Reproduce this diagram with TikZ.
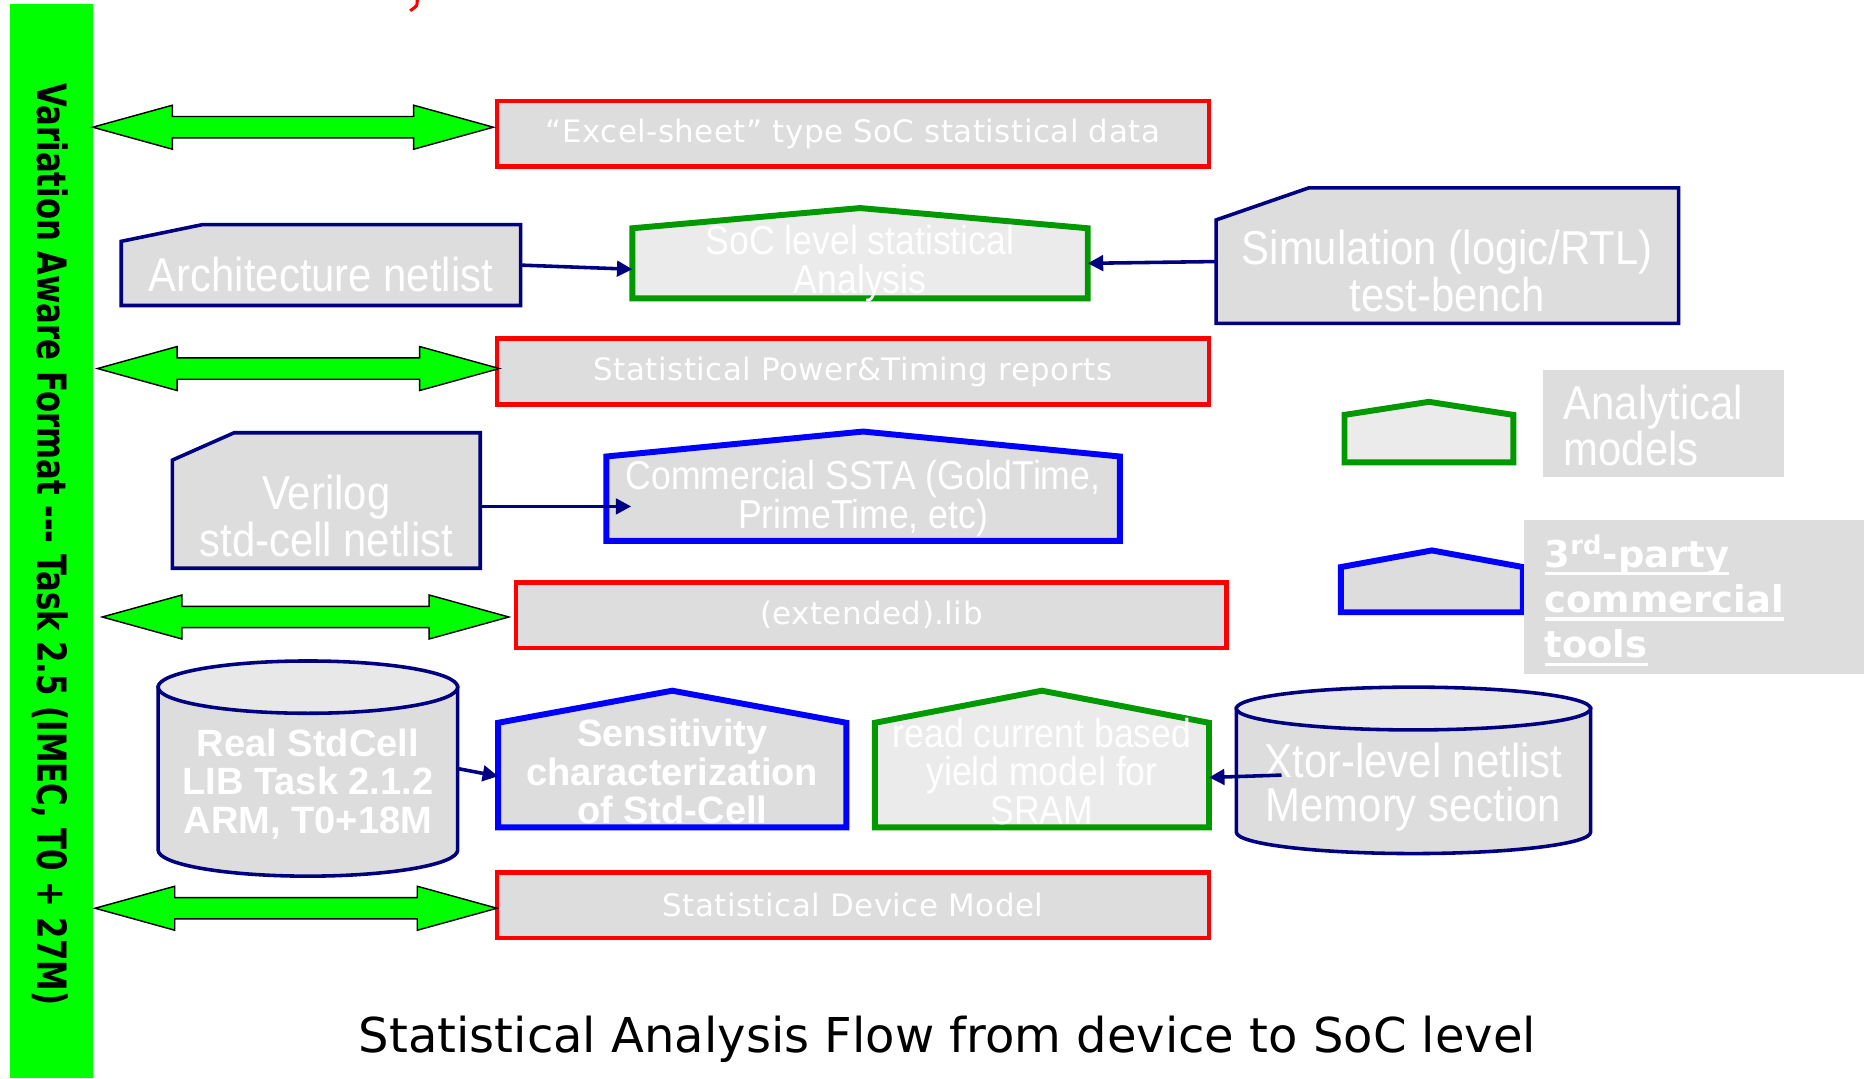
\documentclass[tikz,border=0pt]{standalone}
\usepackage{fontspec}
\usetikzlibrary{backgrounds,calc,arrows.meta}

\newfontfamily\boxfont[FakeStretch=0.88]{Liberation Sans}
\newfontfamily\boldfont{Liberation Sans}
\newfontfamily\filefont[LetterSpace=1.5]{DejaVu Sans}
\newfontfamily\titlefont{DejaVu Sans}
\newfontfamily\barfont[FakeStretch=0.76]{DejaVu Sans}
\newfontfamily\legendfont{DejaVu Sans}

\definecolor{boxgray}{HTML}{DDDDDD}
\definecolor{paler}{HTML}{EBEBEB}
\definecolor{toplight}{HTML}{E8E8E8}
\definecolor{navyline}{HTML}{000080}
\definecolor{redline}{HTML}{FF0000}
\definecolor{greenline}{HTML}{009900}
\definecolor{blueline}{HTML}{0000FF}
\definecolor{barfill}{HTML}{00FF00}

% thick underline for the legend text
\newcommand\thickul[1]{\leavevmode\setbox0\hbox{#1}\rlap{\rule[-3.5pt]{\wd0}{1.3pt}}\box0}

% wide two-headed block arrow between two points
\newcommand\bigdarrow[2]{%
  \draw[bigarrow] let \p1=#1, \p2=#2 in
    (\x1,\y1) -- (\x1+33.5pt,\y1+9.25pt) -- (\x1+33.5pt,\y1+4.5pt)
    -- (\x2-33.5pt,\y1+4.5pt) -- (\x2-33.5pt,\y1+9.25pt) -- (\x2,\y1)
    -- (\x2-33.5pt,\y1-9.25pt) -- (\x2-33.5pt,\y1-4.5pt)
    -- (\x1+33.5pt,\y1-4.5pt) -- (\x1+33.5pt,\y1-9.25pt) -- cycle;}

% pentagon outline around a body node (#3 = roof height)
\newcommand\roof[3]{%
  \draw[#1] (#2.south west) -- (#2.north west) -- ($(#2.north)+(0,-#3)$)
    -- (#2.north east) -- (#2.south east) -- cycle;}

% rectangle with its top-left corner cut off (#2 along top, #3 down the side)
\newcommand\cutbox[3]{%
  \draw[navyshape] ($(#1.north west)+(0,#3)$) -- ($(#1.north west)+(#2,0)$)
    -- (#1.north east) -- (#1.south east) -- (#1.south west) -- cycle;}

% cylinder around a body node (#2 = half width, #3 = half height of the ends)
\newcommand\drum[3]{%
  \draw[navyshape] ($(#1.north west)+(0,#3)$) -- ($(#1.south west)+(0,-#3)$)
    arc[start angle=180, end angle=0, x radius=#2, y radius=#3]
    -- ($(#1.north east)+(0,#3)$) -- cycle;
  \draw[navyshape, fill=toplight] ($(#1.north)+(0,#3)$) ellipse[x radius=#2, y radius=#3];}

\begin{document}
\begin{tikzpicture}[x=0.5pt,y=-0.5pt,
  lbl/.style={text=white, align=center, inner sep=0pt, outer sep=0pt},
  big/.style={font=\boxfont\fontsize{20}{18.5}\selectfont},
  small/.style={font=\boxfont\fontsize{17}{16.25}\selectfont},
  boldlbl/.style={font=\boldfont\bfseries\fontsize{16}{16.25}\selectfont},
  redbox/.style={lbl, font=\filefont\fontsize{13}{15}\selectfont, draw=redline, line width=2pt, fill=boxgray},
  body/.style 2 args={lbl, minimum width=#1*0.5pt, minimum height=#2*0.5pt},
  navyshape/.style={draw=navyline, line width=1.5pt, fill=boxgray},
  greenshape/.style={draw=greenline, line width=2.5pt, fill=paler},
  blueshape/.style={draw=blueline, line width=2.5pt, fill=boxgray},
  conn/.style={draw=navyline, line width=1.5pt, -{Triangle[length=6.5pt,width=6.5pt]}},
  bigarrow/.style={fill=barfill, draw=black, line width=0.6pt, line join=miter},
  greybox/.style={fill=boxgray, inner sep=0pt, outer sep=0pt},
  legtext/.style={text=white, align=left, inner sep=0pt, anchor=west, xshift=8.5pt},
]
\path[use as bounding box] (0,0) rectangle (1568,907);

% vertical format bar
\node[fill=barfill, minimum width=35pt, minimum height=452pt, inner sep=0pt, outer sep=0pt] (bar) at (43,455) {};
\node[rotate=-90, font=\barfont\bfseries\fontsize{17}{20}\selectfont] (bartext) at (42,458)
  {Variation Aware Format --- Task 2.5 (IMEC, T0 + 27M)};

% stray red stroke at the top edge
\draw[redline, line width=1.3pt] (351,0) .. controls (351,5) .. (345,9);

% format files
\node[redbox, minimum width=299.5pt, minimum height=27.5pt] (excel) at (717.5,112.5) {“Excel-sheet” type SoC statistical data};
\node[redbox, minimum width=299.5pt, minimum height=27.5pt] (power) at (717.5,312.5) {Statistical Power\&Timing reports};
\node[redbox, minimum width=299pt, minimum height=27.5pt] (lib) at (733,517.5) {(extended).lib};
\node[redbox, minimum width=299.5pt, minimum height=27.5pt] (devmodel) at (717.5,761.5) {Statistical Device Model};

% inputs, tools and models
\node[body={336}{68}, label={[lbl, big, yshift=-4pt]center:Architecture netlist}] (arch) at (270,223) {};
\node[body={383}{59}, label={[lbl, small]center:{SoC level statistical\\Analysis}}] (soc) at (723.5,221.5) {};
\node[body={389}{114}, label={[lbl, big, yshift=-6.5pt]center:{Simulation (logic/RTL)\\test-bench}}] (sim) at (1217.5,215) {};
\node[body={259}{114}, label={[lbl, big, yshift=-6.5pt]center:{Verilog\\std-cell netlist}}] (veri) at (274.5,421) {};
\node[body={432}{71}, label={[lbl, small]center:{Commercial SSTA (GoldTime,\\PrimeTime, etc)}}] (ssta) at (726,419.5) {};
\node[body={252}{181}, label={[lbl, boldlbl, yshift=-6.5pt]center:{Real StdCell\\LIB Task 2.1.2\\ARM, T0+18M}}] (real) at (259,646.5) {};
\node[body={293}{88}, label={[lbl, boldlbl, yshift=1.5pt]center:{Sensitivity\\characterization\\of Std-Cell}}] (sens) at (565.5,652) {};
\node[body={281}{88}, label={[lbl, small, yshift=1.5pt]center:{read current based\\yield model for\\SRAM}}] (readc) at (876.5,652) {};
\node[body={298}{140}, label={[lbl, big, yshift=-7pt]center:{Xtor-level netlist\\Memory section}}] (xtor) at (1189,648) {};

% legend
\node[body={142}{40}] (leggreen) at (1202,369) {};
\node[body={153}{38}] (legblue) at (1204.5,496) {};
\node[greybox, minimum width=101.5pt, minimum height=45pt,
  label={[legtext, big, yshift=-1pt]west:{Analytical\\models}}] (analyt) at (1399.5,356) {};
\node[greybox, minimum width=143pt, minimum height=65pt,
  label={[legtext, font=\legendfont\bfseries\fontsize{15.5}{19}\selectfont, yshift=-1.5pt]west:{\thickul{3\textsuperscript{rd}-party}\\\thickul{commercial}\\\thickul{tools}}}] (tools) at (1425,502) {};

\begin{scope}[on background layer]
  \cutbox{arch}{68}{14}
  \cutbox{sim}{78}{27}
  \cutbox{veri}{52}{23}
  \roof{greenshape}{soc}{17}
  \roof{blueshape}{ssta}{21}
  \roof{blueshape}{sens}{27}
  \roof{greenshape}{readc}{27}
  \roof{greenshape}{leggreen}{11}
  \roof{blueshape}{legblue}{14}
  \drum{real}{126}{22}
  \drum{xtor}{149}{18}
\end{scope}

% links to the format bar
\bigdarrow{($(bar.east |- excel.west)+(0,-5.5)$)}{($(excel.west)+(-3,-5.5)$)}
\bigdarrow{($(bar.east |- power.west)+(4,-2.5)$)}{($(power.west)+(2,-2.5)$)}
\bigdarrow{($(bar.east |- lib.west)+(8,1.5)$)}{($(lib.west)+(-6,1.5)$)}
\bigdarrow{($(bar.east |- devmodel.west)+(2,2.5)$)}{($(devmodel.west)+(0,2.5)$)}

% flow connectors
\draw[conn] (arch.east) -- ($(soc.west)+(0,5)$);
\draw[conn] ($(sim.west)+(0,5)$) -- (soc.east);
\draw[conn] ($(veri.east)+(0,5)$) -- ($(ssta.west)+(21,6.5)$);
\draw[conn] (real.east) -- ($(sens.west)+(0,1)$);
\draw[conn] ($(xtor.west)+(38,4)$) -- ($(readc.east)+(0,2)$);

% caption
\node[font=\titlefont\fontsize{20.2}{24}\selectfont] (title) at (797,874) {Statistical Analysis Flow from device to SoC level};
\end{tikzpicture}
\end{document}
